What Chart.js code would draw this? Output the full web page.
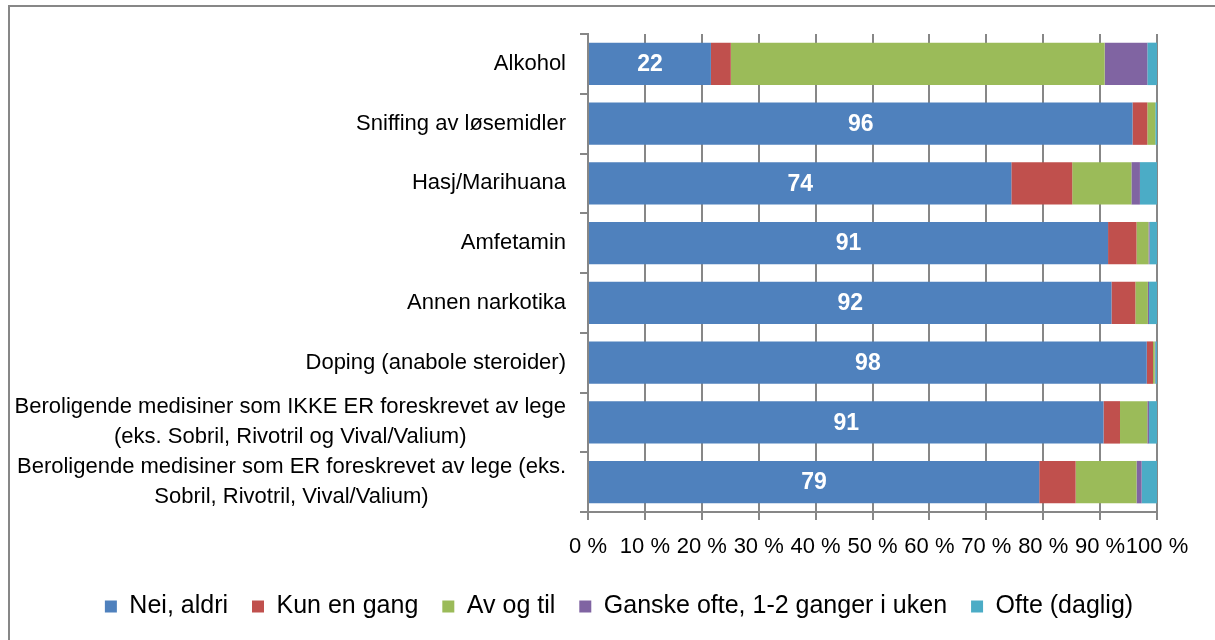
<!DOCTYPE html>
<html>
<head>
<meta charset="utf-8">
<script src="https://cdn.jsdelivr.net/npm/chart.js@4.4.1/dist/chart.umd.min.js"></script>
<style>
html, body { margin: 0; background: #fff; }
#wrap { width: 1215px; height: 640px; position: relative; }
</style>
</head>
<body>
<div id="wrap"><canvas id="rusChart"></canvas></div>
<script>
var categories = [
    ['Alkohol'],
    ['Sniffing av løsemidler'],
    ['Hasj/Marihuana'],
    ['Amfetamin'],
    ['Annen narkotika'],
    ['Doping (anabole steroider)'],
    ['Beroligende medisiner som IKKE ER foreskrevet av lege', '(eks. Sobril, Rivotril og Vival/Valium)'],
    ['Beroligende medisiner som ER foreskrevet av lege (eks.', 'Sobril, Rivotril, Vival/Valium)']
];
var seriesNames = ['Nei, aldri', 'Kun en gang', 'Av og til', 'Ganske ofte, 1-2 ganger i uken', 'Ofte (daglig)'];
var neiAldri   = [21.6, 95.7, 74.4, 91.4, 92.0, 98.2, 90.6, 79.3];
var kunEnGang  = [3.5, 2.6, 10.7, 5.0, 4.2, 1.1, 2.9, 6.4];
var avOgTil    = [65.7, 1.4, 10.4, 2.1, 2.2, 0.3, 4.8, 10.7];
var ganskeOfte = [7.5, 0, 1.5, 0.2, 0.2, 0.1, 0.3, 0.9];
var ofte       = [1.7, 0.3, 3.0, 1.3, 1.4, 0.3, 1.4, 2.7];
var xTicks = [0, 10, 20, 30, 40, 50, 60, 70, 80, 90, 100];

var colors = ['#4F81BD', '#C0504D', '#9BBB59', '#8064A2', '#4BACC6'];
var values = [neiAldri, kunEnGang, avOgTil, ganskeOfte, ofte];
var gridColor = '#878787';

Chart.defaults.font.family = '"Liberation Sans", Arial, sans-serif';
Chart.defaults.color = '#000';

// frame round the chart (only top/left are visible in the picture)
var framePlugin = {
    id: 'frame',
    beforeDraw: function(chart) {
        var ctx = chart.ctx;
        ctx.save();
        ctx.strokeStyle = '#878787';
        ctx.lineWidth = 2;
        ctx.strokeRect(9, 6, 1240, 700);
        ctx.restore();
    }
};

// category labels: block right aligned to the axis, lines centered in the block
var yLabelPlugin = {
    id: 'yLabels',
    afterDraw: function(chart) {
        var ctx = chart.ctx;
        var y = chart.scales.y;
        ctx.save();
        ctx.font = '22px "Liberation Sans", Arial, sans-serif';
        ctx.fillStyle = '#000';
        ctx.textAlign = 'center';
        ctx.textBaseline = 'middle';
        categories.forEach(function(lines, i) {
            var w = Math.max.apply(null, lines.map(function(l) { return ctx.measureText(l).width; }));
            var cx = chart.chartArea.left - 22 - w / 2;
            var cy = y.getPixelForTick(i);
            lines.forEach(function(l, j) {
                ctx.fillText(l, cx, cy + (j - (lines.length - 1) / 2) * 30);
            });
        });
        ctx.restore();
    }
};

// white value labels in the first series only
var valueLabelPlugin = {
    id: 'valueLabels',
    afterDatasetsDraw: function(chart) {
        var ctx = chart.ctx;
        var meta = chart.getDatasetMeta(0);
        ctx.save();
        ctx.font = 'bold 23px "Liberation Sans", Arial, sans-serif';
        ctx.fillStyle = '#fff';
        ctx.textAlign = 'center';
        ctx.textBaseline = 'middle';
        meta.data.forEach(function(bar, i) {
            var p = bar.getCenterPoint();
            ctx.fillText(Math.round(neiAldri[i]), p.x, p.y + 1);
        });
        ctx.restore();
    }
};

var rusChart = new Chart(document.getElementById('rusChart'), {
    type: 'bar',
    data: {
        labels: categories,
        datasets: seriesNames.map(function(name, k) {
            return {
                label: name,
                data: values[k],
                backgroundColor: colors[k],
                borderWidth: 0,
                barPercentage: 0.71,
                categoryPercentage: 1
            };
        })
    },
    options: {
        indexAxis: 'y',
        responsive: true,
        maintainAspectRatio: false,
        animation: false,
        layout: { padding: { top: 34, right: 0, bottom: 11, left: 23 } },
        scales: {
            x: {
                stacked: true,
                min: 0,
                max: 100,
                afterBuildTicks: function(scale) {
                    scale.ticks = xTicks.map(function(v) { return { value: v }; });
                },
                afterFit: function(scale) { scale.height = 58; },
                ticks: {
                    font: { size: 22 },
                    padding: 14,
                    maxRotation: 0,
                    autoSkip: false,
                    callback: function(v) { return v + ' %'; }
                },
                grid: { color: gridColor, lineWidth: 2, tickLength: 8 },
                border: { color: gridColor, width: 2 }
            },
            y: {
                stacked: true,
                afterFit: function(scale) { scale.width = 565; },
                ticks: { display: false },
                grid: { drawOnChartArea: false, offset: true, tickLength: 8, color: gridColor, lineWidth: 2 },
                border: { color: gridColor, width: 2 }
            },
            // empty box on the right, only to keep the plot clear of the right edge
            yRight: {
                type: 'category',
                position: 'right',
                afterFit: function(scale) { scale.width = 58; },
                ticks: { display: false },
                grid: { display: false },
                border: { display: false }
            }
        },
        plugins: {
            legend: {
                position: 'bottom',
                labels: {
                    boxWidth: 12,
                    boxHeight: 12,
                    padding: 24,
                    font: { size: 25 }
                }
            },
            tooltip: { enabled: false }
        }
    },
    plugins: [framePlugin, yLabelPlugin, valueLabelPlugin]
});
</script>
</body>
</html>
